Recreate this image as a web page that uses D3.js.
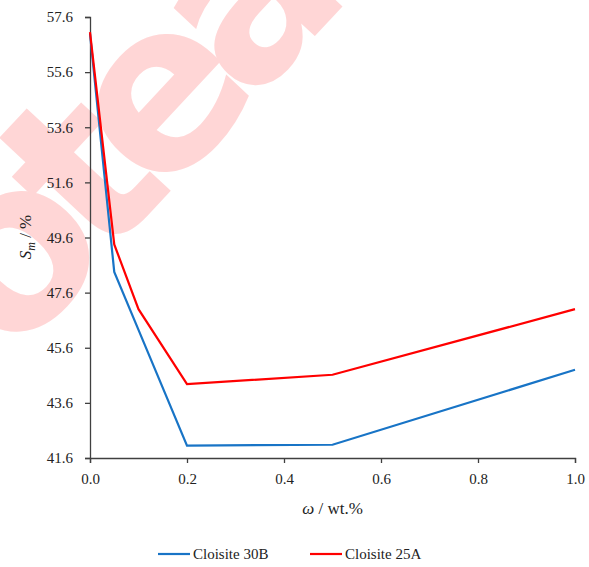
<!DOCTYPE html>
<html>
<head>
<meta charset="utf-8">
<script src="https://cdn.jsdelivr.net/npm/d3@7"></script>
<style>
  body { margin: 0; background: #fff; }
  svg { display: block; }
  .serif { font-family: "Liberation Serif", "Times New Roman", Times, "DejaVu Serif", serif; }
  .tick text { font-family: "Liberation Serif", "Times New Roman", Times, "DejaVu Serif", serif; font-size: 15px; fill: #222; }
</style>
</head>
<body>
<div id="chart"></div>
<script>
// data
const xValues30B = [0, 0.05, 0.1, 0.2, 0.5, 1.0];
const sm30B = [57.0, 48.35, 46.25, 42.05, 42.08, 44.8];
const xValues25A = [0, 0.05, 0.1, 0.2, 0.5, 1.0];
const sm25A = [57.05, 49.35, 47.0, 44.28, 44.62, 47.0];
const xTicks = [0, 0.2, 0.4, 0.6, 0.8, 1.0];
const yTicks = [41.6, 43.6, 45.6, 47.6, 49.6, 51.6, 53.6, 55.6, 57.6];
const seriesNames = ["Cloisite 30B", "Cloisite 25A"];
const seriesColors = ["#1874c6", "#ff0000"];

const W = 589, H = 567;
const margin = { top: 17, right: 14, bottom: 109, left: 90 };
const width = W - margin.left - margin.right;
const height = H - margin.top - margin.bottom;

const svg = d3.select("#chart").append("svg")
    .attr("width", W)
    .attr("height", H);

// watermark behind everything
svg.append("text")
    .attr("transform", "translate(11,362) rotate(-47)")
    .attr("font-family", "DejaVu Sans, sans-serif")
    .attr("font-weight", "bold")
    .attr("font-size", 230)
    .attr("letter-spacing", -25)
    .attr("fill", "#ffd6d6")
    .text("otea");

const g = svg.append("g")
    .attr("transform", `translate(${margin.left},${margin.top})`);

const x = d3.scaleLinear().domain([0, 1]).range([0, width]);
const y = d3.scaleLinear().domain([41.6, 57.6]).range([height, 0]);

// axes
const xAxis = g.append("g")
    .attr("transform", `translate(0,${height})`)
    .call(d3.axisBottom(x).tickValues(xTicks).tickFormat(d3.format(".1f")).tickSize(5).tickPadding(10));
const yAxis = g.append("g")
    .call(d3.axisLeft(y).tickValues(yTicks).tickFormat(d3.format(".1f")).tickSize(5).tickPadding(12));

[xAxis, yAxis].forEach(a => {
    a.attr("font-family", null);
    a.select(".domain").attr("stroke", "#404040").attr("stroke-width", 1.3);
    a.selectAll(".tick line").attr("stroke", "#404040").attr("stroke-width", 1.3);
});

// lines
const series = [
    { name: seriesNames[0], color: seriesColors[0], xs: xValues30B, ys: sm30B },
    { name: seriesNames[1], color: seriesColors[1], xs: xValues25A, ys: sm25A }
];

const line = d3.line()
    .x(d => x(d[0]))
    .y(d => y(d[1]));

series.forEach(s => {
    g.append("path")
        .datum(s.xs.map((v, i) => [v, s.ys[i]]))
        .attr("fill", "none")
        .attr("stroke", s.color)
        .attr("stroke-width", 2.2)
        .attr("stroke-linejoin", "miter")
        .attr("d", line);
});

// axis titles
const xTitle = svg.append("text")
    .attr("class", "serif")
    .attr("x", margin.left + width / 2)
    .attr("y", 514)
    .attr("text-anchor", "middle")
    .attr("font-size", 17)
    .attr("fill", "#222");
xTitle.append("tspan").attr("font-style", "italic").text("ω");
xTitle.append("tspan").text(" / wt.%");

const yTitle = svg.append("text")
    .attr("class", "serif")
    .attr("transform", "translate(31,237) rotate(-90)")
    .attr("text-anchor", "middle")
    .attr("font-size", 17)
    .attr("fill", "#222");
yTitle.append("tspan").attr("font-style", "italic").text("S");
yTitle.append("tspan").attr("font-style", "italic").attr("font-size", 12).attr("dy", 4).text("m");
yTitle.append("tspan").attr("dy", -4).text(" / %");

// legend
const legend = svg.append("g").attr("transform", "translate(158,554)");
const legendX = [0, 152];
series.forEach((s, i) => {
    const item = legend.append("g").attr("transform", `translate(${legendX[i]},0)`);
    item.append("line")
        .attr("x1", 0).attr("x2", 32)
        .attr("stroke", s.color)
        .attr("stroke-width", 2.2);
    item.append("text")
        .attr("class", "serif")
        .attr("x", 35)
        .attr("y", 5)
        .attr("font-size", 15)
        .attr("fill", "#222")
        .text(s.name);
});
</script>
</body>
</html>
